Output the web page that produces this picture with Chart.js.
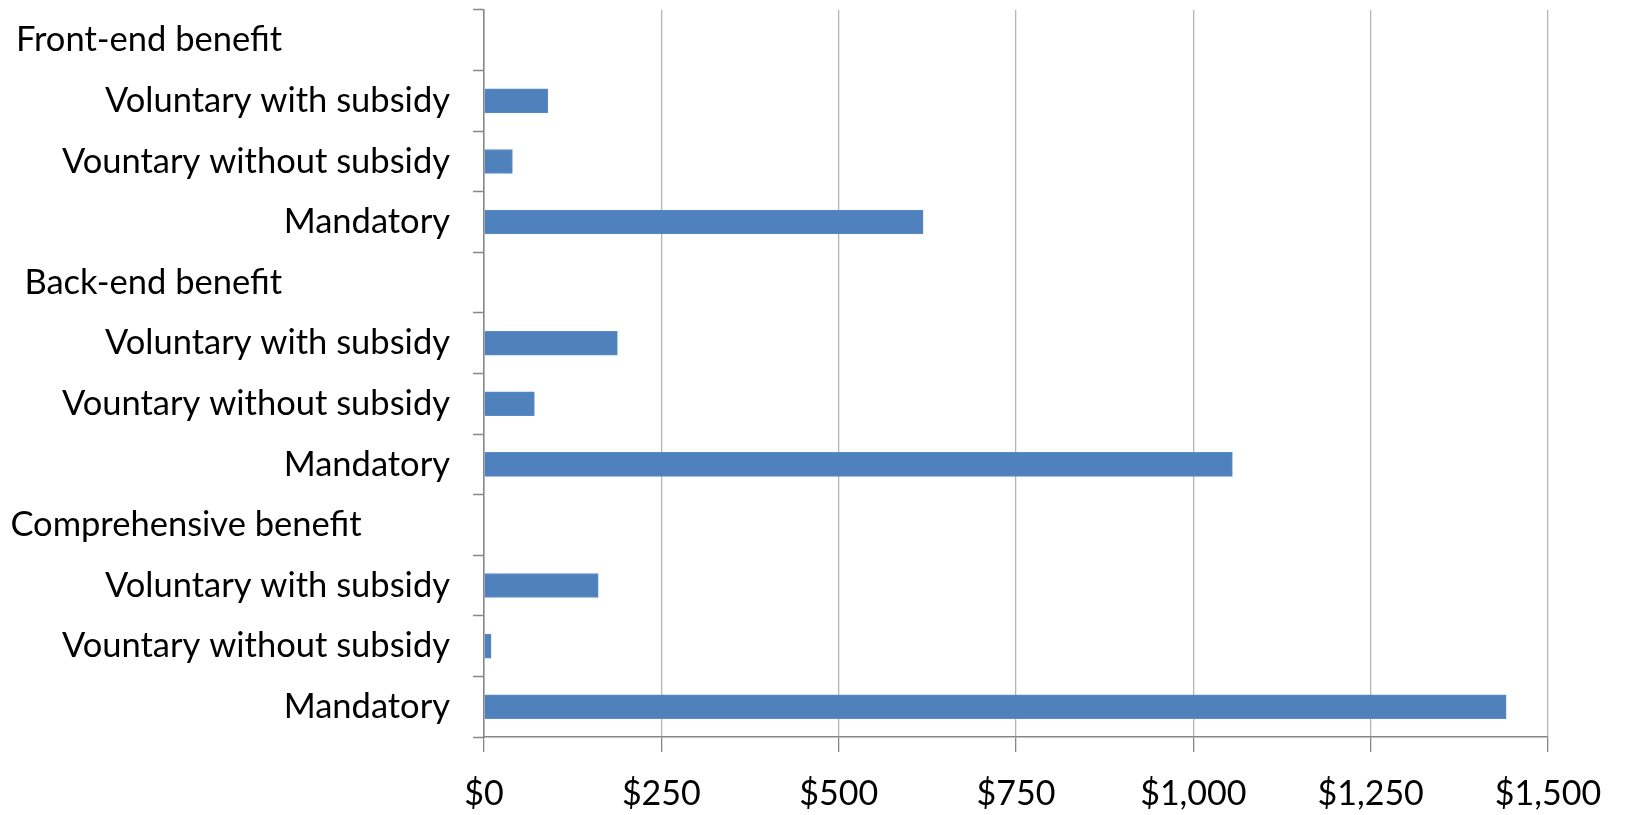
<!DOCTYPE html>
<html>
<head>
<meta charset="utf-8">
<script src="https://cdn.jsdelivr.net/npm/chart.js@4.4.1/dist/chart.umd.min.js"></script>
<style>
  html, body { margin: 0; padding: 0; background: #fff; }
  #wrap { width: 1625px; height: 815px; }
</style>
</head>
<body>
<div id="wrap"><canvas id="chart" width="1625" height="815"></canvas></div>
<script>
// --- Data ---
const categories = [
    'Front-end benefit',
    'Voluntary with subsidy',
    'Vountary without subsidy',
    'Mandatory',
    'Back-end benefit',
    'Voluntary with subsidy',
    'Vountary without subsidy',
    'Mandatory',
    'Comprehensive benefit',
    'Voluntary with subsidy',
    'Vountary without subsidy',
    'Mandatory'
];
// header rows have no bar
const costValues = [null, 90, 40, 619, null, 188, 71, 1055, null, 161, 10, 1441];
const xTicks = [0, 250, 500, 750, 1000, 1250, 1500];

// trailing spaces keep group headers where the original put them
const headerPad = { 'Front-end benefit': 19, 'Back-end benefit': 19, 'Comprehensive benefit': 10 };

const FONT = 'Lato, "Open Sans", sans-serif';
const AXIS = '#868686';
const GRID = '#b5b5b5';

const fmtMoney = (v) => '$' + v.toLocaleString('en-US');

const ctx = document.getElementById('chart').getContext('2d');
new Chart(ctx, {
    type: 'bar',
    data: {
        labels: categories,
        datasets: [{
            data: costValues,
            backgroundColor: '#4f81bd',
            borderColor: '#5b8cc6',
            borderWidth: 1,
            barThickness: 24
        }]
    },
    options: {
        indexAxis: 'y',
        responsive: false,
        animation: false,
        layout: { padding: { top: 10, right: 77, left: 0, bottom: 0 } },
        plugins: { legend: { display: false }, tooltip: { enabled: false } },
        scales: {
            x: {
                min: 0,
                max: 1500,
                afterBuildTicks: (axis) => { axis.ticks = xTicks.map(v => ({ value: v })); },
                afterFit: (axis) => { axis.height = 78; axis.paddingLeft = 0; axis.paddingRight = 0; },
                border: { color: AXIS, width: 1.5 },
                grid: { color: GRID, lineWidth: 1.3, tickLength: 15, tickColor: AXIS },
                ticks: {
                    color: '#000',
                    font: { family: FONT, size: 34 },
                    padding: 22,
                    maxRotation: 0,
                    callback: (v) => fmtMoney(v)
                }
            },
            y: {
                afterFit: (axis) => { axis.width = 484; axis.paddingTop = 0; axis.paddingBottom = 0; },
                border: { color: AXIS, width: 1.5 },
                grid: { offset: true, drawOnChartArea: false, tickLength: 11, tickColor: AXIS, tickWidth: 1.5 },
                ticks: {
                    color: '#000',
                    font: { family: FONT, size: 34.5 },
                    padding: 23,
                    autoSkip: false,
                    callback: function (v) {
                        const lbl = this.getLabelForValue(v);
                        const pad = headerPad[lbl];
                        return pad ? lbl + '\u00a0'.repeat(pad) : lbl;
                    }
                }
            }
        }
    }
});
</script>
</body>
</html>
